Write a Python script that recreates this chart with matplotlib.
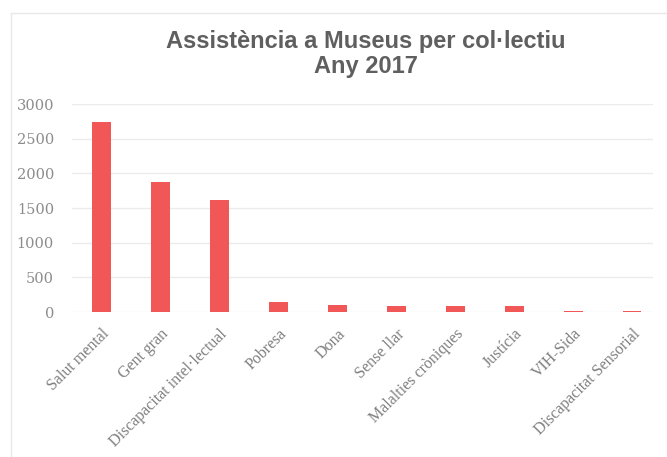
import matplotlib.pyplot as plt
from matplotlib.lines import Line2D


# =====================================================
# DATA
# =====================================================

collectius = [
    "Salut mental",
    "Gent gran",
    "Discapacitat intel·lectual",
    "Pobresa",
    "Dona",
    "Sense llar",
    "Malalties cròniques",
    "Justícia",
    "VIH-Sida",
    "Discapacitat Sensorial"
]

assistencia = [2740, 1880, 1620, 145, 100, 90, 90, 90, 15, 15]

y_ticks = [0, 500, 1000, 1500, 2000, 2500, 3000]

title_text = "Assistència a Museus per col·lectiu\nAny 2017"


# =====================================================
# FIGURE
# =====================================================

fig = plt.figure(
    figsize=(6.67, 4.57),
    dpi=100
)

ax = fig.add_axes([72 / 667, 1 - 312 / 457, 581 / 667, 208 / 457])

x = list(range(len(collectius)))

ax.bar(
    x,
    assistencia,
    width=0.31,
    color="#F25757",
    zorder=3
)

ax.set_xlim(-0.5, 9.35)
ax.set_ylim(0, 3000)

ax.set_yticks(y_ticks)
ax.set_yticklabels(
    [str(v) for v in y_ticks],
    family="DejaVu Serif",
    fontsize=10.5,
    color="#8c8c8c"
)

ax.set_xticks(x)
ax.set_xticklabels(
    collectius,
    family="Liberation Serif",
    fontsize=11.5,
    color="#7f7f7f",
    rotation=45,
    ha="right",
    va="top",
    rotation_mode="anchor"
)

ax.tick_params(axis="both", length=0)
ax.tick_params(axis="y", pad=13)
ax.tick_params(axis="x", pad=10)

ax.grid(axis="y", color="#ebebeb", linewidth=1, zorder=0)

for side in ["top", "right", "bottom", "left"]:
    ax.spines[side].set_visible(False)

fig.text(
    366 / 667,
    1 - 54 / 457,
    title_text,
    ha="center",
    va="center",
    family="Liberation Sans",
    fontsize=17,
    fontweight="bold",
    color="#5f5f5f",
    linespacing=1.15
)

# faint chart border (top and left)
fig.add_artist(Line2D([11 / 667, 1], [1 - 13 / 457, 1 - 13 / 457], color="#e8e8e8", linewidth=1))
fig.add_artist(Line2D([11 / 667, 11 / 667], [0, 1 - 13 / 457], color="#e8e8e8", linewidth=1))

plt.savefig(
    "out.png",
    dpi=100
)

plt.close()
